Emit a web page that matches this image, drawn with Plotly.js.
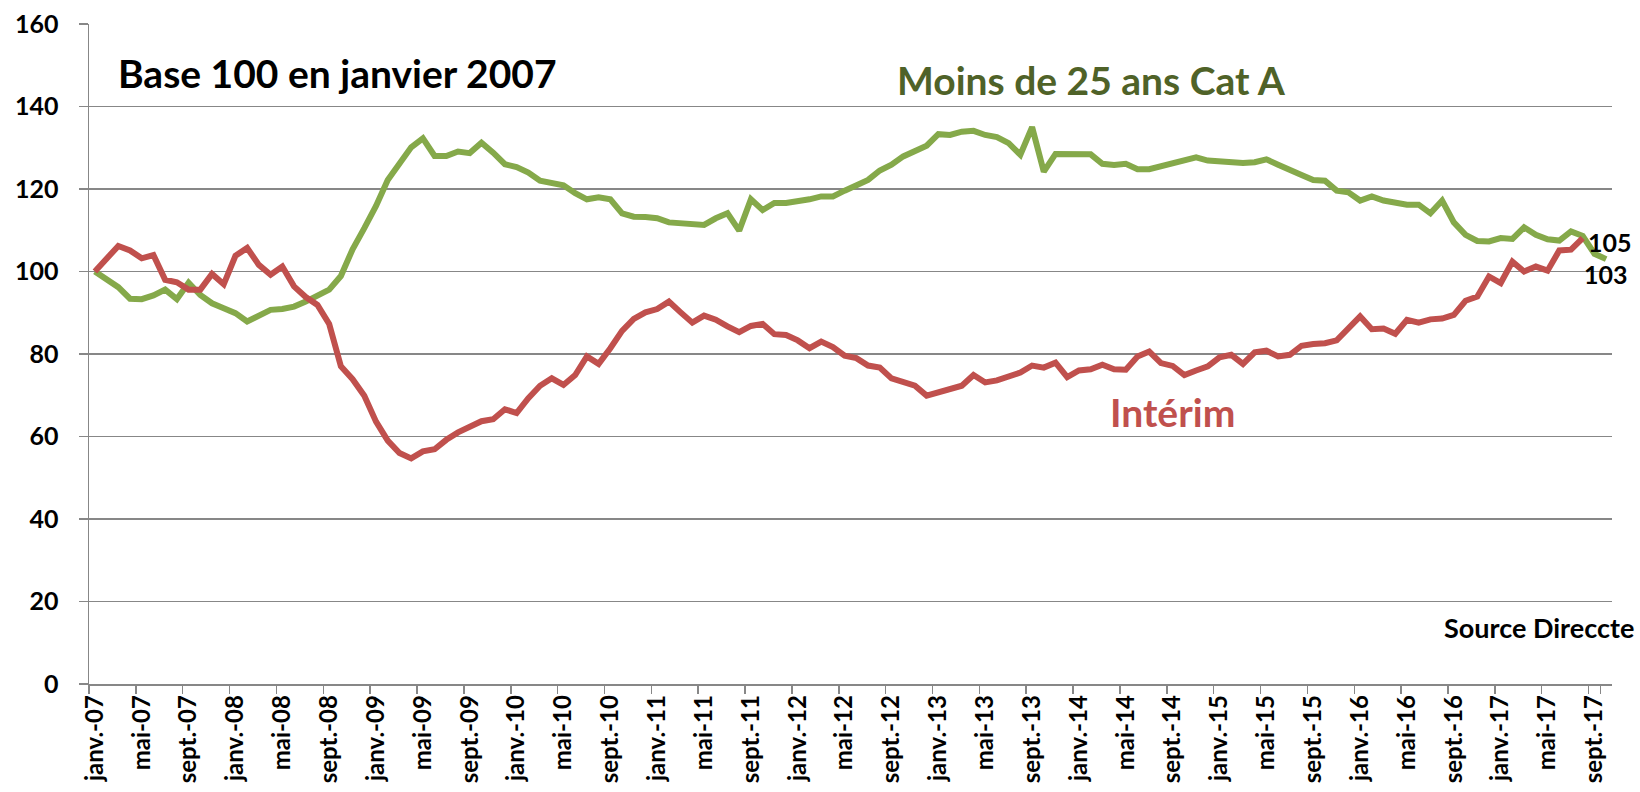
<!DOCTYPE html>
<html>
<head>
<meta charset="utf-8">
<script src="https://cdn.plot.ly/plotly-3.0.1.min.js"></script>
<style>html,body{margin:0;padding:0;background:#fff;}#chart{width:1640px;height:792px;}</style>
</head>
<body>
<div id="chart"></div>
<script>
// ---- data ----
const monthNames = ['janv.','févr.','mars','avr.','mai','juin','juil.','août','sept.','oct.','nov.','déc.'];
const yearLabels = ['07','08','09','10','11','12','13','14','15','16','17'];
const nMonths = 130; // janv.-07 .. oct.-17
const categories = [];
for (let i = 0; i < nMonths; i++) {
  categories.push(monthNames[i % 12] + '-' + yearLabels[Math.floor(i / 12)]);
}

const tickLabels = [
  'janv.-07','mai-07','sept.-07','janv.-08','mai-08','sept.-08','janv.-09','mai-09','sept.-09',
  'janv.-10','mai-10','sept.-10','janv.-11','mai-11','sept.-11','janv.-12','mai-12','sept.-12',
  'janv.-13','mai-13','sept.-13','janv.-14','mai-14','sept.-14','janv.-15','mai-15','sept.-15',
  'janv.-16','mai-16','sept.-16','janv.-17','mai-17','sept.-17'
];

const interim = [
  100,103.0,106.2,105.1,103.2,104.0,98.0,97.4,95.6,95.6,99.4,96.9,
  103.8,105.7,101.6,99.2,101.2,96.4,93.8,91.9,87.3,77.0,73.9,69.9,
  63.6,59.0,56.0,54.7,56.4,56.9,59.2,61.0,62.4,63.7,64.2,66.6,
  65.7,69.3,72.3,74.1,72.5,74.9,79.4,77.6,81.4,85.6,88.5,90.1,
  90.9,92.7,90.1,87.6,89.3,88.3,86.7,85.3,86.8,87.3,84.8,84.6,
  83.3,81.4,83.0,81.7,79.6,79.0,77.2,76.7,74.1,73.3,72.3,69.9,
  70.7,71.5,72.3,74.9,73.1,73.6,74.4,75.5,77.2,76.7,77.9,74.4,
  76.0,76.3,77.4,76.3,76.2,79.4,80.6,77.8,77.1,74.9,76.0,77.0,
  79.2,79.8,77.6,80.4,80.8,79.4,79.8,82.0,82.4,82.6,83.3,86.3,
  89.1,86.0,86.2,84.9,88.3,87.6,88.4,88.6,89.5,92.9,93.9,98.8,
  97.2,102.4,100.0,101.2,100.2,105.1,105.3,108.1
];

const moins25 = [
  100,98.0,96.2,93.4,93.3,94.2,95.6,93.3,97.3,94.3,92.3,91.1,
  89.9,87.9,89.5,90.7,90.9,91.5,92.7,94.1,95.6,98.9,105.4,110.5,
  115.9,122.2,126.1,130.1,132.3,128.0,128.0,129.1,128.7,131.2,128.8,126.0,
  125.3,124.0,122.0,121.3,120.9,119.0,117.5,118.0,117.5,114.1,113.3,113.2,
  112.9,111.9,111.6,111.6,111.3,112.9,114.1,109.9,117.5,114.9,116.6,116.6,
  117.0,117.5,118.2,118.2,119.6,120.8,122.2,124.5,125.9,127.9,129.3,130.5,
  133.3,133.1,133.9,134.1,133.1,132.6,131.1,128.3,135.0,124.2,128.5,128.5,
  128.7,128.4,126.1,125.8,126.1,124.8,124.8,125.6,126.3,127.1,127.7,126.9,
  126.7,126.4,126.3,126.5,127.2,125.9,124.8,123.4,122.2,122.0,119.6,119.2,
  117.2,118.2,117.2,116.6,116.2,116.2,114.1,117.2,111.9,108.9,107.4,107.3,
  108.1,107.9,110.7,108.9,107.8,107.5,109.7,108.6,104.3,103.0
];

const endLabels = { interim: '105', moins25: '103' };
const seriesNames = { interim: 'Intérim', moins25: 'Moins de 25 ans Cat A' };
const chartTitle = 'Base 100 en janvier 2007';
const sourceText = 'Source Direccte';

// ---- styles ----
const FONT = 'Lato, "Open Sans", sans-serif';
const GREEN = '#85A94A';
const RED = '#C0504D';
const GRID = '#878787';

const traces = [
  {
    x: categories.slice(0, moins25.length), y: moins25, type: 'scatter', mode: 'lines',
    line: { color: GREEN, width: 6 }, name: seriesNames.moins25, hoverinfo: 'skip'
  },
  {
    x: categories.slice(0, interim.length), y: interim, type: 'scatter', mode: 'lines',
    line: { color: RED, width: 6 }, name: seriesNames.interim, hoverinfo: 'skip'
  }
];

const lastR = interim.length - 1, lastG = moins25.length - 1;

const layout = {
  width: 1640, height: 792,
  margin: { l: 89, r: 28, t: 24, b: 108 },
  paper_bgcolor: '#ffffff', plot_bgcolor: '#ffffff',
  showlegend: false,
  font: { family: FONT, color: '#000' },
  xaxis: {
    type: 'category',
    categoryorder: 'array', categoryarray: categories,
    range: [-0.5, nMonths - 0.5],
    tickmode: 'array', tickvals: tickLabels, ticktext: tickLabels,
    tickson: 'boundaries',
    ticks: 'outside', ticklen: 8, tickwidth: 1.5, tickcolor: GRID,
    tickangle: -90,
    tickfont: { family: FONT, size: 24, weight: 700, color: '#000' },
    showline: true, linecolor: GRID, linewidth: 1.5,
    showgrid: false, zeroline: false, fixedrange: true
  },
  yaxis: {
    range: [0, 160], dtick: 20, tick0: 0,
    ticks: 'outside', ticklen: 9, tickwidth: 1.5, tickcolor: GRID,
    tickfont: { family: FONT, size: 25, weight: 700, color: '#000' },
    ticklabelstandoff: 15,
    showline: true, linecolor: GRID, linewidth: 1.5,
    showgrid: true, gridcolor: GRID, gridwidth: 1.5,
    zeroline: false, fixedrange: true
  },
  annotations: [
    { xref: 'paper', yref: 'paper', x: 0.018, y: 0.926, xanchor: 'left', yanchor: 'middle',
      text: chartTitle, showarrow: false,
      font: { family: FONT, size: 39, weight: 700, color: '#000' } },
    { xref: 'paper', yref: 'paper', x: 0.529, y: 0.9145, xanchor: 'left', yanchor: 'middle',
      text: seriesNames.moins25, showarrow: false,
      font: { family: FONT, size: 39, weight: 700, color: '#4F6228' } },
    { xref: 'paper', yref: 'paper', x: 0.669, y: 0.4114, xanchor: 'left', yanchor: 'middle',
      text: seriesNames.interim, showarrow: false,
      font: { family: FONT, size: 39, weight: 700, color: RED } },
    { xref: 'paper', yref: 'paper', x: 1.016, y: 0.0856, xanchor: 'right', yanchor: 'middle',
      text: sourceText, showarrow: false,
      font: { family: FONT, size: 27, weight: 700, color: '#000' } },
    { xref: 'x', yref: 'y', x: categories[lastR], y: interim[lastR], xanchor: 'left', yanchor: 'middle',
      xshift: 3, yshift: -4, text: endLabels.interim, showarrow: false,
      font: { family: FONT, size: 25, weight: 700, color: '#000' } },
    { xref: 'x', yref: 'y', x: categories[lastG], y: moins25[lastG], xanchor: 'center', yanchor: 'middle',
      xshift: 0, yshift: -15, text: endLabels.moins25, showarrow: false,
      font: { family: FONT, size: 25, weight: 700, color: '#000' } }
  ]
};

Plotly.newPlot('chart', traces, layout, { staticPlot: true, displayModeBar: false });
</script>
</body>
</html>
